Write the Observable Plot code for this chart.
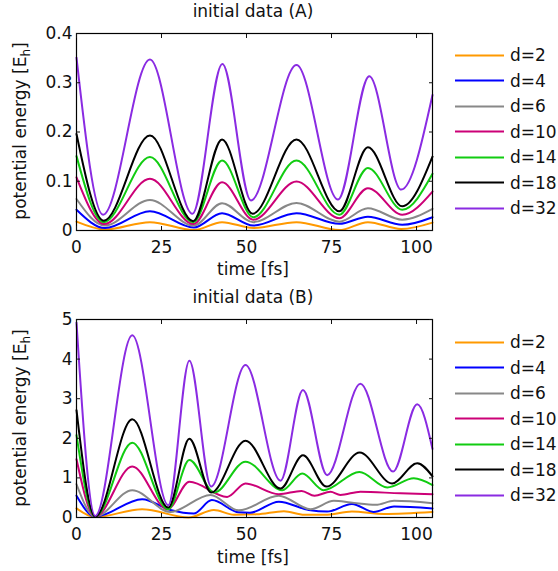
<!DOCTYPE html>
<html><head><meta charset="utf-8">
<script src="https://cdn.jsdelivr.net/npm/d3@7"></script>
<script src="https://cdn.jsdelivr.net/npm/@observablehq/plot@0.6"></script>
<style>
body{margin:0;background:#fff;font-family:"DejaVu Sans",sans-serif;color:#111;}
#root{position:relative;width:558px;height:571px;overflow:hidden;background:#fff;}
.abs{position:absolute;white-space:nowrap;}
.ctr{transform:translate(-50%,-50%);}
.txt{font-size:17px;line-height:1;}
.ylab{font-size:17px;line-height:1;transform:translate(-50%,-50%) rotate(-90deg);}
.ylab sub{font-size:12px;vertical-align:-4px;line-height:0;}
.leg{display:flex;align-items:center;font-size:17px;line-height:1;transform:translateY(-50%);}
.leg .sw{width:49px;height:2px;margin-right:6px;}
svg{position:absolute;left:0;}
</style>
</head><body><div id="root"></div>
<script>
// ---------- data ----------
const labels = ["d=2","d=4","d=6","d=10","d=14","d=18","d=32"];
const colors = ["#ff9900","#0000ff","#888888","#cc0077","#11cc11","#000000","#8a2be2"];
const xTicks = [0,25,50,75,100];
const xDomain = [0,104.7];
const yTicksA = [0,0.1,0.2,0.3,0.4];
const yTicksB = [0,1,2,3,4,5];

// panel A: initial data (A)   [time fs, energy Eh]
const A_d2  = [[0,0.018],[8.5,0.002],[21.6,0.017],[34.5,0.001],[42.8,0.017],[52,0.005],[64.7,0.017],[77.3,0.001],[85.7,0.017],[95.5,0.003],[104.7,0.016]];
const A_d4  = [[0,0.042],[8.4,0.005],[21.6,0.039],[34.5,0.006],[42.8,0.035],[52,0.010],[64.7,0.035],[77.3,0.0135],[85.7,0.028],[95.8,0.0115],[104.7,0.027]];
const A_d6  = [[0,0.064],[8.3,0.010],[21.6,0.062],[34.5,0.010],[42.8,0.0555],[52,0.017],[64.7,0.056],[77.3,0.018],[85.7,0.045],[95.8,0.022],[104.7,0.044]];
const A_d10 = [[0,0.108],[8.2,0.013],[21.6,0.105],[34.4,0.013],[42.8,0.098],[52,0.022],[64.7,0.0995],[77.3,0.025],[85.7,0.086],[95.8,0.032],[104.7,0.079]];
const A_d14 = [[0,0.151],[8.0,0.017],[21.6,0.149],[34.3,0.017],[42.8,0.142],[52,0.027],[64.7,0.142],[77.3,0.032],[85.7,0.127],[95.8,0.042],[104.7,0.115]];
const A_d18 = [[0,0.196],[8.0,0.020],[21.6,0.193],[34.3,0.019],[42.8,0.185],[51.8,0.034],[64.7,0.185],[77.3,0.039],[85.7,0.169],[95.8,0.049],[104.7,0.150]];
const A_d32 = [[0,0.351],[7.8,0.032],[21.6,0.347],[34.1,0.034],[42.9,0.338],[51.3,0.061],[64.7,0.336],[76.9,0.063],[86.1,0.313],[95.5,0.083],[104.7,0.275]];

// panel B: initial data (B)
const B_d2  = [[0,0.23],[5.5,0.01],[19.3,0.21],[33,0.0],[40.4,0.19],[46.3,0.07],[53,0.08],[61,0.16],[67,0.07],[73,0.07],[81,0.15],[90.4,0.09],[104.7,0.14]];
const B_d4  = [[0,0.55],[5.5,0.02],[19.3,0.46],[27.6,0.19],[34.5,0.10],[39.8,0.44],[47.7,0.13],[51,0.12],[59.5,0.40],[68.3,0.19],[73.7,0.15],[81,0.34],[87.4,0.14],[93.4,0.28],[104.7,0.23]];
const B_d6  = [[0,0.84],[5.5,0.02],[16.4,0.69],[27.6,0.14],[39.4,0.57],[47.7,0.18],[59.5,0.55],[68.8,0.21],[75.7,0.42],[80.6,0.38],[88,0.32],[93.4,0.42],[104.7,0.36]];
const B_d10 = [[0,1.47],[5.5,0.02],[16.4,1.29],[26.8,0.21],[33.2,0.90],[44.3,0.52],[49.7,0.86],[59.5,0.59],[66.2,0.67],[70,0.55],[74.7,0.65],[77.6,0.57],[83.5,0.65],[95.3,0.61],[104.7,0.59]];
const B_d14 = [[0,2.08],[5.5,0.02],[16.4,1.89],[27.0,0.21],[33.2,1.45],[40.5,0.63],[49.7,1.41],[60.5,0.69],[66.4,1.11],[72.7,0.69],[83.2,1.15],[91.4,0.76],[99.2,0.99],[104.7,0.82]];
const B_d18 = [[0,2.71],[5.5,0.02],[16.4,2.48],[27.0,0.25],[33.2,1.99],[39.6,0.63],[49.7,1.94],[60,0.73],[66.6,1.57],[73.5,0.78],[83.3,1.64],[92.8,0.86],[100.2,1.37],[104.7,1.04]];
const B_d32 = [[0,4.92],[5.5,0.04],[16.4,4.60],[27.0,0.31],[33.2,3.96],[39.6,0.78],[49.7,3.85],[60.0,0.93],[66.6,3.22],[73.7,1.07],[83.5,3.38],[93.1,1.16],[100.2,2.86],[104.7,1.73]];

const seriesA = [A_d2,A_d4,A_d6,A_d10,A_d14,A_d18,A_d32];
const seriesB = [B_d2,B_d4,B_d6,B_d10,B_d14,B_d18,B_d32];

// ---------- drawing ----------
const root = document.getElementById("root");
const fmt = d3.format("~g");

function panel(series, yDomain, yTicks, height, mt, mb) {
  const data = series.flatMap((pts, i) => pts.map(([t, v]) => ({t, v, d: labels[i]})));
  return Plot.plot({
    width: 434, height, marginLeft: 76, marginRight: 2, marginTop: mt, marginBottom: mb,
    style: {fontFamily: "DejaVu Sans", fontSize: "17px", color: "#111", background: "transparent", overflow: "visible"},
    x: {domain: xDomain},
    y: {domain: yDomain},
    color: {domain: labels, range: colors},
    marks: [
      Plot.line(data, {x: "t", y: "v", z: "d", stroke: "d", strokeWidth: 2, curve: "monotone-x"}),
      Plot.frame({stroke: "#000", strokeWidth: 1.2}),
      Plot.axisX(xTicks, {anchor: "bottom", tickSize: -4, tickPadding: 14, label: null, tickFormat: fmt}),
      Plot.axisX(xTicks, {anchor: "top", tickSize: -4, label: null, tickFormat: () => ""}),
      Plot.axisY(yTicks, {anchor: "left", tickSize: -4, tickPadding: 8, label: null, tickFormat: fmt}),
      Plot.axisY(yTicks, {anchor: "right", tickSize: -4, label: null, tickFormat: () => ""})
    ]
  });
}

function addText(html, cls, x, y) {
  const d = document.createElement("div");
  d.className = "abs " + cls;
  d.style.left = x + "px"; d.style.top = y + "px";
  d.innerHTML = html;
  root.appendChild(d);
}

function legend(y0, step) {
  labels.forEach((lab, i) => {
    const d = document.createElement("div");
    d.className = "abs leg";
    d.style.left = "455px"; d.style.top = (y0 + i * step) + "px";
    d.innerHTML = `<span class="sw" style="background:${colors[i]}"></span><span>${lab}</span>`;
    root.appendChild(d);
  });
}

const pA = panel(seriesA, [0, 0.4], yTicksA, 285, 33, 55);
pA.style.top = "0px";
root.appendChild(pA);
const pB = panel(seriesB, [0, 5], yTicksB, 284, 32, 54);
pB.style.top = "287px";
root.appendChild(pB);

addText("initial data (A)", "ctr txt", 253, 11);
addText("time [fs]", "ctr txt", 253, 269);
addText("potential energy [E<sub>h</sub>]", "ylab", 20, 131);
legend(55, 25.5);

addText("initial data (B)", "ctr txt", 253, 297);
addText("time [fs]", "ctr txt", 253, 557);
addText("potential energy [E<sub>h</sub>]", "ylab", 20, 418);
legend(342, 25.5);
</script>
</body></html>
